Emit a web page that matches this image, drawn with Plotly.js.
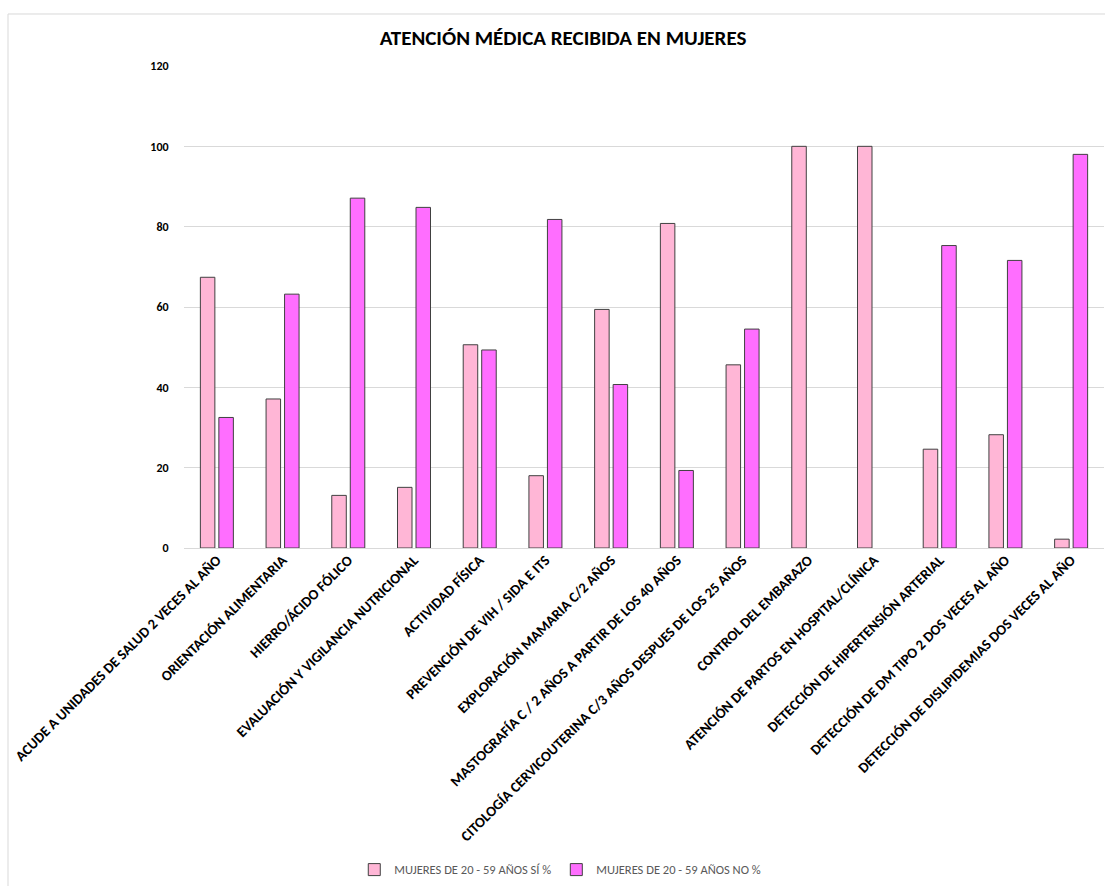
<!DOCTYPE html>
<html>
<head>
<meta charset="utf-8">
<script src="https://cdn.plot.ly/plotly-3.0.1.min.js"></script>
<style>html,body{margin:0;padding:0;background:#fff;}#chart{width:1105px;height:886px;}</style>
</head>
<body>
<div id="chart"></div>
<script>
const categories = [
  "ACUDE A UNIDADES DE SALUD 2 VECES AL AÑO",
  "ORIENTACIÓN ALIMENTARIA",
  "HIERRO/ÁCIDO FÓLICO",
  "EVALUACIÓN Y VIGILANCIA NUTRICIONAL",
  "ACTIVIDAD FÍSICA",
  "PREVENCIÓN DE VIH / SIDA E ITS",
  "EXPLORACIÓN MAMARIA C/2 AÑOS",
  "MASTOGRAFÍA C / 2 AÑOS A PARTIR DE LOS 40 AÑOS",
  "CITOLOGÍA CERVICOUTERINA C/3 AÑOS DESPUES DE LOS 25 AÑOS",
  "CONTROL DEL EMBARAZO",
  "ATENCIÓN DE PARTOS EN HOSPITAL/CLÍNICA",
  "DETECCIÓN DE HIPERTENSIÓN ARTERIAL",
  "DETECCIÓN DE DM TIPO 2 DOS VECES AL AÑO",
  "DETECCIÓN DE DISLIPIDEMIAS DOS VECES AL AÑO"
];
const siValues = [67.4, 37.1, 13.1, 15.1, 50.6, 18.0, 59.4, 80.8, 45.6, 100, 100, 24.6, 28.2, 2.2];
const noValues = [32.5, 63.2, 87.1, 84.8, 49.3, 81.8, 40.7, 19.3, 54.5, 0, 0, 75.3, 71.6, 98.0];
const seriesNames = ["MUJERES DE 20 - 59 AÑOS SÍ %", "MUJERES DE 20 - 59 AÑOS NO %"];
const yTicks = [0, 20, 40, 60, 80, 100, 120];

const FONT = "Carlito, 'Liberation Sans Narrow', Lato, 'Open Sans', sans-serif";
const edge = vals => vals.map(v => (v === 0 ? 0 : 1));

const traces = [
  {type: "bar", name: seriesNames[0], x: categories, y: siValues,
   marker: {color: "#FFB6D6", line: {color: "#404040", width: edge(siValues)}}},
  {type: "bar", name: seriesNames[1], x: categories, y: noValues,
   marker: {color: "#FF6EFF", line: {color: "#404040", width: edge(noValues)}}}
];

const layout = {
  width: 1105, height: 886,
  paper_bgcolor: "#fff", plot_bgcolor: "#fff",
  margin: {l: 184, r: 1, t: 66, b: 338},
  font: {family: FONT, color: "#000"},
  title: {text: "<b>ATENCIÓN MÉDICA RECIBIDA EN MUJERES</b>",
          font: {family: FONT, size: 21, color: "#000"},
          x: 0.412, xref: "paper", xanchor: "center",
          y: 0.957, yref: "container", yanchor: "middle"},
  barmode: "group", bargap: 0.437, bargroupgap: 0.216,
  xaxis: {tickangle: -45, tickfont: {family: FONT, size: 14.5, color: "#000", weight: 700},
          showgrid: false, showline: false, zeroline: false, ticks: "", automargin: false},
  yaxis: {range: [0, 120], tickvals: yTicks, ticktext: yTicks.map(String),
          tickfont: {family: FONT, size: 12, color: "#000", weight: 700},
          gridcolor: "#D9D9D9", gridwidth: 1, zeroline: true, zerolinecolor: "#D9D9D9",
          showline: false, ticks: "outside", ticklen: 12, tickcolor: "rgba(0,0,0,0)", automargin: false},
  legend: {orientation: "h", x: 0.409, xanchor: "center", y: -0.668, yanchor: "middle",
           font: {family: FONT, size: 12.5, color: "#595959"},
           traceorder: "normal"},
  shapes: [{type: "rect", xref: "paper", yref: "paper", x0: -0.1913, x1: 1.01, y0: -0.75, y1: 1.1079,
            line: {color: "#D9D9D9", width: 1}, fillcolor: "rgba(0,0,0,0)", layer: "below"}]
};

Plotly.newPlot("chart", traces, layout, {displayModeBar: false, staticPlot: true});
</script>
</body>
</html>
